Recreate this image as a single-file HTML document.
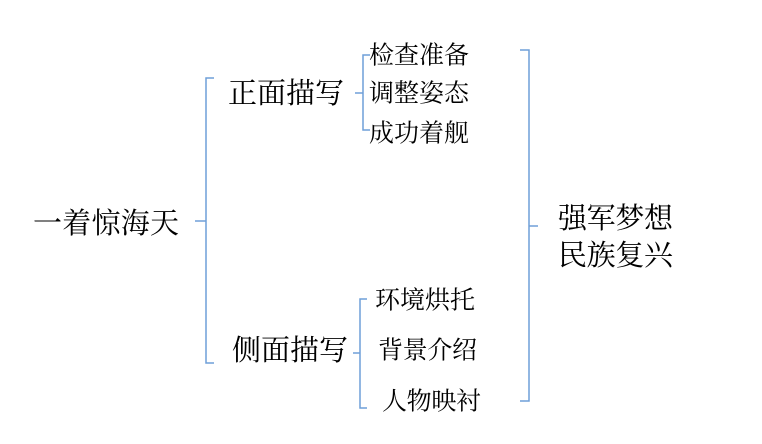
<!DOCTYPE html>
<html><head><meta charset="utf-8"><style>
html,body{margin:0;padding:0;background:#fff;}
svg{display:block;}
text{font-family:"Liberation Serif","Noto Serif CJK SC","Noto Sans CJK SC",serif;fill:#000;dominant-baseline:central;}
</style></head><body>
<svg width="762" height="444" viewBox="0 0 762 444" xmlns="http://www.w3.org/2000/svg">
<g fill="none" stroke="#6f9fd8" stroke-width="1.5">
<path d="M214 78 H206 V363 H214"/><path d="M195 221 H206"/>
<path d="M370 55 H363 V130 H370"/><path d="M355 93 H363"/>
<path d="M367 299 H360 V408 H367"/><path d="M353 353 H360"/>
<path d="M520 50 H529 V401 H520"/><path d="M529 226 H538"/>
</g>
<text x="33" y="224" font-size="29" textLength="146">一着惊海天</text>
<text x="228" y="94" font-size="29" textLength="116">正面描写</text>
<text x="232" y="351" font-size="29" textLength="116">侧面描写</text>
<text x="369" y="56" font-size="25" textLength="100">检查准备</text>
<text x="369" y="94" font-size="25" textLength="100">调整姿态</text>
<text x="369" y="134" font-size="25" textLength="100">成功着舰</text>
<text x="375" y="301" font-size="25" textLength="100">环境烘托</text>
<text x="378" y="351" font-size="25" textLength="99">背景介绍</text>
<text x="382" y="402" font-size="25" textLength="99">人物映衬</text>
<text x="558" y="219" font-size="29" textLength="115">强军梦想</text>
<text x="558" y="256" font-size="29" textLength="115">民族复兴</text>
</svg>
</body></html>
